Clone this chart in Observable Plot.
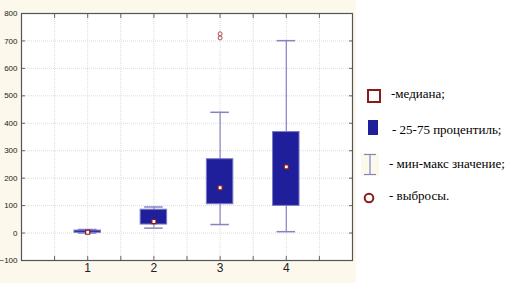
<!DOCTYPE html>
<html><head><meta charset="utf-8">
<script src="https://cdn.jsdelivr.net/npm/d3@7"></script>
<script src="https://cdn.jsdelivr.net/npm/@observablehq/plot@0.6"></script>
<style>
html,body{margin:0;padding:0;background:#ffffff;}
#wrap{position:relative;width:507px;height:283px;overflow:hidden;background:#ffffff;}
#cream{position:absolute;left:0;top:0;width:356px;height:283px;background:#fdf8ec;}
#chart{position:absolute;left:0;top:0;}
.leg{position:absolute;font-family:"Times New Roman",serif;font-size:13px;color:#000;white-space:nowrap;line-height:14px;height:14px;}
.sym{position:absolute;}
</style></head><body>
<div id="wrap"><div id="cream"></div><div id="chart"></div></div>
<script>
// ---- data ----
const groups = [1, 2, 3, 4];
const mins = [0, 18, 31, 5];
const q1s = [1, 31, 105, 99];
const medians = [3, 42, 165, 241];
const q3s = [9, 85, 269, 368];
const maxs = [13, 95, 440, 701];
const outlierGroups = [3, 3];
const outlierValues = [711, 726];
const yTicks = [-100, 0, 100, 200, 300, 400, 500, 600, 700, 800];
const xLabels = [1, 2, 3, 4];
const xMinorTicks = [0.5, 1, 1.5, 2, 2.5, 3, 3.5, 4, 4.5];
const xGrid = [0.5, 1, 1.5, 2, 2.5, 3, 3.5, 4, 4.5];
const legendLabels = ["-медиана;", "- 25-75 процентиль;", "- мин-макс значение;", "- выбросы."];

const boxes = groups.map((g, i) => ({g, min: mins[i], q1: q1s[i], med: medians[i], q3: q3s[i], max: maxs[i]}));
const outliers = outlierGroups.map((g, i) => ({g, v: outlierValues[i]}));

const BOX = 0.2, CAP = 0.14;
const whisk = "#8585c6", boxFill = "#1f1f9c", red = "#8b1a1a";

const chart = Plot.plot({
  width: 507, height: 283,
  marginLeft: 21, marginRight: 155, marginTop: 13, marginBottom: 23,
  style: {background: "transparent", fontFamily: "'Liberation Sans', Arial, sans-serif", color: "#222"},
  x: {type: "linear", domain: [0, 5], label: null},
  y: {domain: [-100, 800], label: null},
  marks: [
    Plot.frame({fill: "white", stroke: null}),
    Plot.gridY(yTicks, {stroke: "#dcdcdc", strokeOpacity: 1, strokeDasharray: "1,1"}),
    Plot.gridX(xGrid, {stroke: "#dcdcdc", strokeOpacity: 1, strokeDasharray: "1,1"}),
    Plot.ruleX(boxes, {x: "g", y1: "min", y2: "max", stroke: whisk, strokeWidth: 1.2}),
    Plot.ruleY(boxes, {y: "min", x1: d => d.g - CAP, x2: d => d.g + CAP, stroke: whisk, strokeWidth: 1.5}),
    Plot.ruleY(boxes, {y: "max", x1: d => d.g - CAP, x2: d => d.g + CAP, stroke: whisk, strokeWidth: 1.5}),
    Plot.rect(boxes, {x1: d => d.g - BOX, x2: d => d.g + BOX, y1: "q1", y2: "q3", fill: boxFill, stroke: "#7a7ac4", strokeWidth: 1}),
    Plot.dot(boxes, {x: "g", y: "med", symbol: "square", r: 2.3, fill: "white", stroke: red, strokeWidth: 1.2}),
    Plot.dot(outliers, {x: "g", y: "v", r: 2, fill: "none", stroke: "#b04848", strokeWidth: 1}),
    Plot.axisY(yTicks, {tickSize: 0, tickPadding: 4, fontSize: 8, fill: "#222", label: null}),
    Plot.axisY(yTicks, {tickSize: 4, dx: 4, fill: "none", stroke: "#666", label: null}),
    Plot.axisY(yTicks, {anchor: "right", tickSize: 4, dx: -4, fill: "none", stroke: "#666", label: null}),
    Plot.axisX(xLabels, {tickSize: 0, tickPadding: 3, fontSize: 12, fill: "#222", label: null}),
    Plot.axisX(xMinorTicks, {tickSize: 4, dy: -4, fill: "none", stroke: "#666", label: null}),
    Plot.axisX(xMinorTicks, {anchor: "top", tickSize: 4, dy: 4, fill: "none", stroke: "#666", label: null}),
    Plot.frame({stroke: "#555", strokeWidth: 1.2})
  ]
});
document.getElementById("chart").appendChild(chart);

// ---- legend ----
const wrap = document.getElementById("wrap");
function add(html) { wrap.insertAdjacentHTML("beforeend", html); }
add(`<div class="sym" style="left:367px;top:89px;width:10px;height:10px;border:2px solid ${red};background:#fff;"></div>`);
add(`<div class="sym" style="left:368px;top:120px;width:10px;height:15px;background:${boxFill};"></div>`);
add(`<div class="sym" style="left:361px;top:153px;width:18px;height:23px;background:#fdf8ec;"></div>`);
add(`<svg class="sym" style="left:361px;top:153px" width="18" height="23"><line x1="3" x2="15" y1="1.5" y2="1.5" stroke="${whisk}" stroke-width="1.2"/><line x1="9" x2="9" y1="1.5" y2="21.5" stroke="${whisk}" stroke-width="1.2"/><line x1="3" x2="15" y1="21.5" y2="21.5" stroke="${whisk}" stroke-width="1.2"/></svg>`);
add(`<svg class="sym" style="left:362px;top:191px" width="14" height="14"><circle cx="7" cy="7" r="4.3" fill="none" stroke="${red}" stroke-width="2"/></svg>`);
const legY = [87, 123, 157, 189];
const legX = [391, 392, 389, 389];
legendLabels.forEach((t, i) => add(`<div class="leg" style="left:${legX[i]}px;top:${legY[i]}px">${t}</div>`));
</script>
</body></html>
